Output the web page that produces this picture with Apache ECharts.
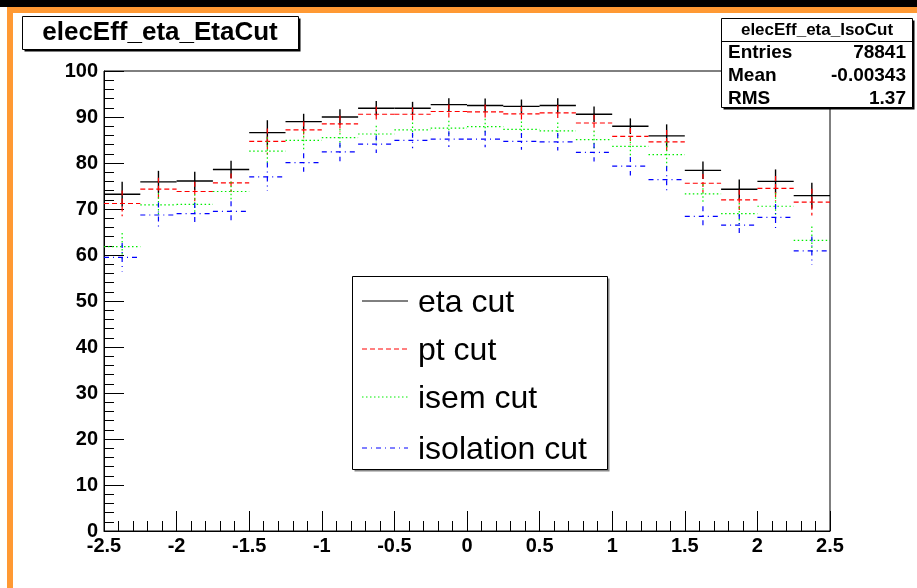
<!DOCTYPE html>
<html>
<head>
<meta charset="utf-8">
<title>elecEff_eta_EtaCut</title>
<script src="https://cdn.jsdelivr.net/npm/echarts@6/dist/echarts.min.js"></script>
<style>
html, body { margin: 0; padding: 0; background: #fff; }
#chart { width: 917px; height: 588px; }
</style>
</head>
<body>
<div id="chart"></div>
<script>
// bin centres of the eta histogram (20 bins of 0.25 between -2.5 and 2.5)
const binCenters = [-2.375, -2.125, -1.875, -1.625, -1.375, -1.125, -0.875, -0.625, -0.375, -0.125,
                    0.125, 0.375, 0.625, 0.875, 1.125, 1.375, 1.625, 1.875, 2.125, 2.375];
const binWidth = 0.25;

// efficiency (%) per bin
const etaCut = [73.2, 75.9, 76.1, 78.6, 86.6, 89.0, 90.0, 91.9, 91.9, 92.7,
                92.5, 92.3, 92.5, 90.6, 88.0, 85.9, 78.4, 74.3, 76.0, 72.9];
const ptCut = [71.2, 74.3, 73.8, 75.7, 84.7, 87.2, 88.5, 90.6, 90.6, 91.2,
               91.1, 90.7, 90.9, 88.7, 85.8, 84.6, 75.6, 72.0, 74.5, 71.5];
const isemCut = [61.8, 70.9, 71.0, 73.8, 82.6, 84.9, 85.5, 86.3, 87.2, 87.6,
                 87.9, 87.3, 87.0, 85.1, 83.6, 81.8, 73.3, 69.0, 70.6, 63.2];
const isolationCut = [59.5, 68.7, 69.0, 69.5, 77.0, 80.1, 82.4, 84.1, 84.9, 85.2,
                      85.2, 84.7, 84.6, 82.3, 79.3, 76.4, 68.4, 66.5, 68.2, 60.9];

// error bars (half height)
const etaErr = [2.7, 2.4, 2.0, 1.9, 2.7, 1.7, 1.7, 1.6, 1.4, 1.4, 1.5, 1.5, 1.6, 1.7, 1.7, 2.5, 1.9, 2.1, 2.6, 2.8];
const ptErr = [2.8, 2.5, 2.1, 2.0, 2.8, 1.8, 1.8, 1.7, 1.5, 1.5, 1.6, 1.6, 1.7, 1.8, 1.8, 2.6, 2.0, 2.2, 2.7, 2.9];
const isemErr = [3.0, 2.6, 2.2, 2.1, 3.0, 1.9, 1.9, 1.8, 1.6, 1.6, 1.7, 1.7, 1.8, 1.9, 1.9, 2.8, 2.1, 2.3, 2.8, 3.0];
const isolationErr = [3.1, 2.7, 2.3, 2.2, 3.1, 2.0, 2.0, 1.9, 1.7, 1.7, 1.8, 1.8, 1.9, 2.0, 2.0, 2.9, 2.2, 2.4, 2.9, 3.1];

const seriesNames = ["eta cut", "pt cut", "isem cut", "isolation cut"];
const statsRows = [["Entries", "78841"], ["Mean", "-0.00343"], ["RMS", "1.37"]];

const font = "'Liberation Sans', Arial, Helvetica, sans-serif";
const styles = [
    { color: "#000000", dash: null, width: 1.4 },
    { color: "#ff0000", dash: [5, 3], width: 1.2 },
    { color: "#00ee00", dash: [1.5, 2.5], width: 1.2 },
    { color: "#0000ff", dash: [5, 4, 1, 4], width: 1.2 }
];

function binData(values, errors) {
    return binCenters.map((x, i) => [x, values[i], errors[i]]);
}

function binRenderer(st) {
    return function (params, api) {
        const x = api.value(0);
        const y = api.value(1);
        const err = api.value(2);
        const left = api.coord([x - binWidth / 2, y]);
        const right = api.coord([x + binWidth / 2, y]);
        const top = api.coord([x, y + err]);
        const bottom = api.coord([x, y - err]);
        const style = { stroke: st.color, lineWidth: st.width, lineDash: st.dash, fill: null };
        return {
            type: "group",
            children: [
                { type: "line", shape: { x1: left[0], y1: left[1], x2: right[0], y2: right[1] }, style: style },
                { type: "line", shape: { x1: top[0], y1: top[1], x2: bottom[0], y2: bottom[1] }, style: style }
            ]
        };
    };
}

const allData = [
    binData(etaCut, etaErr),
    binData(ptCut, ptErr),
    binData(isemCut, isemErr),
    binData(isolationCut, isolationErr)
];

const chart = echarts.init(document.getElementById("chart"));

// frame, title box, stats box, legend box
const graphics = [
    { type: "rect", shape: { x: 0, y: 0, width: 917, height: 7 }, style: { fill: "#000" } },
    { type: "rect", shape: { x: 7, y: 7, width: 910, height: 6 }, style: { fill: "#ff9933" } },
    { type: "rect", shape: { x: 7, y: 7, width: 6, height: 581 }, style: { fill: "#ff9933" } },

    { type: "rect", shape: { x: 24.5, y: 18.5, width: 276, height: 33 }, style: { fill: "#000" } },
    { type: "rect", shape: { x: 22.5, y: 16.5, width: 276, height: 33 }, style: { fill: "#fff", stroke: "#000", lineWidth: 1 } },
    { type: "text", x: 160, y: 33, style: { text: "elecEff_eta_EtaCut", font: "bold 26px " + font, fill: "#000", align: "center", verticalAlign: "middle" } },

    { type: "rect", shape: { x: 723.5, y: 20.5, width: 191, height: 89 }, style: { fill: "#000" } },
    { type: "rect", shape: { x: 721.5, y: 18.5, width: 191, height: 89 }, style: { fill: "#fff", stroke: "#000", lineWidth: 1 } },
    { type: "line", shape: { x1: 721.5, y1: 41.5, x2: 912.5, y2: 41.5 }, style: { stroke: "#000", lineWidth: 1 } },
    { type: "text", x: 817, y: 30, style: { text: "elecEff_eta_IsoCut", font: "bold 17px " + font, fill: "#000", align: "center", verticalAlign: "middle" } },

    { type: "rect", shape: { x: 354.5, y: 278.5, width: 255, height: 193 }, style: { fill: "#888" } },
    { type: "rect", shape: { x: 352.5, y: 276.5, width: 255, height: 193 }, style: { fill: "#fff", stroke: "#000", lineWidth: 1 } }
];

statsRows.forEach((row, i) => {
    const y = 53 + i * 23;
    graphics.push({ type: "text", x: 728, y: y, style: { text: row[0], font: "bold 19px " + font, fill: "#000", align: "left", verticalAlign: "middle" } });
    graphics.push({ type: "text", x: 906, y: y, style: { text: row[1], font: "bold 19px " + font, fill: "#000", align: "right", verticalAlign: "middle" } });
});

const legendY = [303, 351, 399, 450];
seriesNames.forEach((name, i) => {
    const st = styles[i];
    graphics.push({ type: "line", shape: { x1: 362, y1: legendY[i] - 2, x2: 408, y2: legendY[i] - 2 }, style: { stroke: st.color, lineWidth: 1, lineDash: st.dash } });
    graphics.push({ type: "text", x: 418, y: legendY[i], style: { text: name, font: "32px " + font, fill: "#000", align: "left", verticalAlign: "middle" } });
});

chart.setOption({
    animation: false,
    backgroundColor: "#fff",
    grid: {
        left: 104, right: 87, top: 71, bottom: 57,
        show: true, borderColor: "#000", borderWidth: 1, backgroundColor: "#fff"
    },
    xAxis: {
        type: "value", min: -2.5, max: 2.5, interval: 0.5,
        axisLine: { show: true, onZero: false, lineStyle: { color: "#000", width: 1 } },
        axisTick: { show: true, inside: true, length: 20, lineStyle: { color: "#000" } },
        minorTick: { show: true, splitNumber: 5, length: 10, lineStyle: { color: "#000" } },
        splitLine: { show: false },
        axisLabel: { color: "#000", fontFamily: font, fontWeight: "bold", fontSize: 20, margin: 5 }
    },
    yAxis: {
        type: "value", min: 0, max: 100, interval: 10,
        axisLine: { show: true, onZero: false, lineStyle: { color: "#000", width: 1 } },
        axisTick: { show: true, inside: true, length: 20, lineStyle: { color: "#000" } },
        minorTick: { show: true, splitNumber: 5, length: 10, lineStyle: { color: "#000" } },
        splitLine: { show: false },
        axisLabel: { color: "#000", fontFamily: font, fontWeight: "bold", fontSize: 20, margin: 6 }
    },
    graphic: { elements: graphics.map(g => Object.assign({ z: 100 }, g)) },
    series: allData.map((data, i) => ({
        type: "custom",
        name: seriesNames[i],
        renderItem: binRenderer(styles[i]),
        encode: { x: 0, y: 1 },
        data: data,
        z: 2 + i
    }))
});
</script>
</body>
</html>
